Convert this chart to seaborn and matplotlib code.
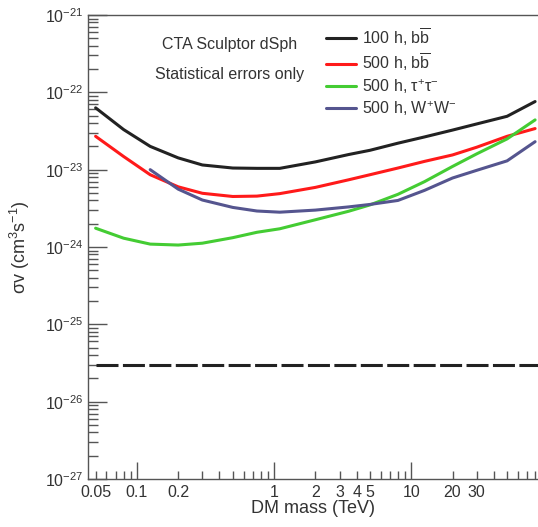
import numpy as np
import pandas as pd
import matplotlib
matplotlib.use("Agg")
import matplotlib.pyplot as plt
import seaborn as sns
from matplotlib.ticker import LogLocator, FixedLocator, NullFormatter, FuncFormatter

# ---- data ----
mass_100h_bb = [0.05, 0.08, 0.125, 0.2, 0.3, 0.5, 0.75, 1.1, 2.0, 3.5, 5.0, 8.0, 12.5, 20.0, 30.0, 50.0, 80.0]
sv_100h_bb = [6.3e-23, 3.3e-23, 2.0e-23, 1.42e-23, 1.15e-23, 1.05e-23, 1.04e-23, 1.04e-23,
              1.26e-23, 1.57e-23, 1.78e-23, 2.2e-23, 2.65e-23, 3.25e-23, 3.9e-23, 4.9e-23, 7.6e-23]

mass_500h_bb = [0.05, 0.08, 0.125, 0.2, 0.3, 0.5, 0.75, 1.1, 2.0, 3.5, 5.0, 8.0, 12.5, 20.0, 30.0, 50.0, 80.0]
sv_500h_bb = [2.7e-23, 1.48e-23, 8.6e-24, 6.0e-24, 4.95e-24, 4.5e-24, 4.55e-24, 4.9e-24,
              5.9e-24, 7.4e-24, 8.6e-24, 1.05e-23, 1.28e-23, 1.55e-23, 1.95e-23, 2.7e-23, 3.4e-23]

mass_500h_tautau = [0.05, 0.08, 0.125, 0.2, 0.3, 0.5, 0.75, 1.1, 2.0, 3.5, 5.0, 8.0, 12.5, 20.0, 30.0, 50.0, 80.0]
sv_500h_tautau = [1.75e-24, 1.3e-24, 1.09e-24, 1.06e-24, 1.12e-24, 1.32e-24, 1.55e-24, 1.72e-24,
                  2.25e-24, 2.9e-24, 3.5e-24, 4.8e-24, 7.0e-24, 1.1e-23, 1.6e-23, 2.5e-23, 4.4e-23]

mass_500h_ww = [0.125, 0.2, 0.3, 0.5, 0.75, 1.1, 2.0, 3.5, 5.0, 8.0, 12.5, 20.0, 30.0, 50.0, 80.0]
sv_500h_ww = [1.0e-23, 5.6e-24, 4.05e-24, 3.25e-24, 2.92e-24, 2.82e-24, 3.0e-24, 3.3e-24,
              3.55e-24, 4.0e-24, 5.4e-24, 7.8e-24, 9.8e-24, 1.3e-23, 2.3e-23]

relic_mass = [0.05, 84.0]
relic_sv = [3e-26, 3e-26]

series_labels = [r"100 h, $\mathregular{b\overline{b}}$",
                 r"500 h, $\mathregular{b\overline{b}}$",
                 r"500 h, $\mathregular{\tau^{+}\tau^{-}}$",
                 r"500 h, $\mathregular{W^{+}W^{-}}$"]
series_colors = ["#222222", "#ff1a1a", "#44cc33", "#55558f"]

x_tick_values = [0.05, 0.1, 0.2, 1, 2, 3, 4, 5, 10, 20, 30]
x_tick_labels = ["0.05", "0.1", "0.2", "1", "2", "3", "4", "5", "10", "20", "30"]
y_tick_values = [1e-27, 1e-26, 1e-25, 1e-24, 1e-23, 1e-22, 1e-21]

# ---- style ----
sns.set_theme(style="white")
plt.rcParams["font.family"] = ["Liberation Sans", "DejaVu Sans"]
plt.rcParams["mathtext.fontset"] = "custom"
plt.rcParams["mathtext.rm"] = "Liberation Sans"
plt.rcParams["mathtext.it"] = "Liberation Sans:italic"
plt.rcParams["mathtext.bf"] = "Liberation Sans:bold"
plt.rcParams["mathtext.sf"] = "Liberation Sans"
plt.rcParams["mathtext.default"] = "regular"
plt.rcParams["text.color"] = "#333333"

frames = []
for lab, m, s in zip(series_labels,
                     [mass_100h_bb, mass_500h_bb, mass_500h_tautau, mass_500h_ww],
                     [sv_100h_bb, sv_500h_bb, sv_500h_tautau, sv_500h_ww]):
    frames.append(pd.DataFrame({"mass": m, "sv": s, "series": lab}))
df = pd.concat(frames, ignore_index=True)

fig = plt.figure(figsize=(5.38, 5.27), dpi=100)
ax = fig.add_axes([88 / 538, 1 - 479 / 527, 1 - 88 / 538, (479 - 15) / 527])

sns.lineplot(data=df, x="mass", y="sv", hue="series", hue_order=series_labels,
             palette=series_colors, linewidth=2.2, ax=ax, sort=False, estimator=None)

relic = pd.DataFrame({"mass": relic_mass, "sv": relic_sv})
sns.lineplot(data=relic, x="mass", y="sv", color="#222222", linewidth=2.2, ax=ax,
             dashes=False, legend=False)
ax.lines[-1].set_dashes((7.2, 1.45))

ax.set_xscale("log")
ax.set_yscale("log")
ax.set_xlim(0.044, 84)
ax.set_ylim(1e-27, 1e-21)

# ticks
spine_col = "#555555"
ax.xaxis.set_major_locator(FixedLocator([0.1, 1, 10]))
ax.xaxis.set_minor_locator(LogLocator(base=10, subs=np.arange(2, 10) / 1.0, numticks=20))
ax.xaxis.set_major_formatter(NullFormatter())
ax.xaxis.set_minor_formatter(NullFormatter())
ax.yaxis.set_major_locator(FixedLocator(y_tick_values))
ax.yaxis.set_minor_locator(LogLocator(base=10, subs=np.arange(2, 10) / 1.0, numticks=20))
ax.yaxis.set_minor_formatter(NullFormatter())
ax.yaxis.set_major_formatter(FuncFormatter(
    lambda v, p: r"$\mathregular{10^{%d}}$" % int(round(np.log10(v)))))
ax.tick_params(which="both", direction="in", colors=spine_col, labelcolor="#333333",
               top=False, right=False, bottom=True, left=True)
ax.tick_params(axis="x", which="major", length=12, width=1.0, pad=4)
ax.tick_params(axis="x", which="minor", length=6, width=1.0)
ax.tick_params(axis="y", which="major", length=14, width=1.0, pad=3, labelsize=11.5)
ax.tick_params(axis="y", which="minor", length=7, width=1.0)

# x labels as text at specified values
for v, t in zip(x_tick_values, x_tick_labels):
    ax.text(v, -0.012, t, transform=ax.get_xaxis_transform(), ha="center", va="top",
            fontsize=11.5, color="#333333")

for side in ["left", "bottom", "top"]:
    ax.spines[side].set_color(spine_col)
    ax.spines[side].set_linewidth(1.0)
ax.spines["right"].set_visible(False)

ax.set_xlabel("DM mass (TeV)", fontsize=13, color="#333333")
ax.set_ylabel(r"$\mathregular{\sigma v\ (cm^{3}s^{-1})}$", fontsize=13, color="#333333")
ax.xaxis.set_label_coords(0.5, -0.045)
ax.yaxis.set_label_coords(-0.125, 0.5)

ax.text(0.314, 0.937, "CTA Sculptor dSph", transform=ax.transAxes, ha="center", va="center",
        fontsize=11.5, color="#333333")
ax.text(0.314, 0.872, "Statistical errors only", transform=ax.transAxes, ha="center", va="center",
        fontsize=11.5, color="#333333")

leg = ax.legend(loc="upper left", bbox_to_anchor=(0.515, 0.99), frameon=False, fontsize=11.5,
                handlelength=1.85, handletextpad=0.4, labelspacing=0.22, borderaxespad=0)
for t in leg.get_texts():
    t.set_color("#333333")

fig.savefig("out.png", dpi=100)
